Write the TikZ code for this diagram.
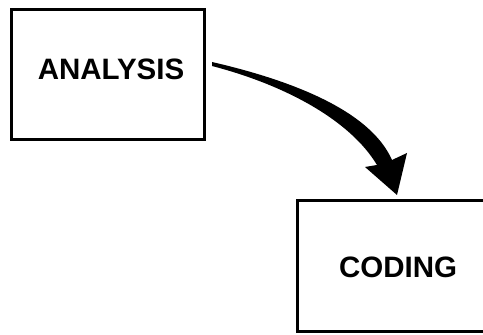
\documentclass[tikz,border=0pt]{standalone}
\usepackage{fontspec}
\setmainfont{Liberation Sans}
\begin{document}
\begin{tikzpicture}[x=1pt,y=1pt,
  stagebox/.style={draw=black,line width=3pt,rectangle,inner sep=0pt},
  stagelabel/.style={font=\fontsize{29.5}{32}\selectfont\bfseries,inner sep=0pt}]
\useasboundingbox (0,0) rectangle (483,335);
\node[stagebox,minimum width=193pt,minimum height=130pt] (analysis) at (107.5,260) {};
\node[stagelabel] (analysislabel) at (111,266) {ANALYSIS};
\node[stagebox,minimum width=210pt,minimum height=131pt] (coding) at (402,68.5) {};
\node[stagelabel] (codinglabel) at (398,68) {CODING};
\coordinate (s1) at (212,273);
\coordinate (s2) at (212,269);
\fill[black] (s1) .. controls (290,255) and (370,225) .. (392,175)
  -- (407,182) -- (397,140) -- (365,168) -- (377,170)
  .. controls (350,215) and (285,250) .. (s2) -- cycle;
\end{tikzpicture}
\end{document}
